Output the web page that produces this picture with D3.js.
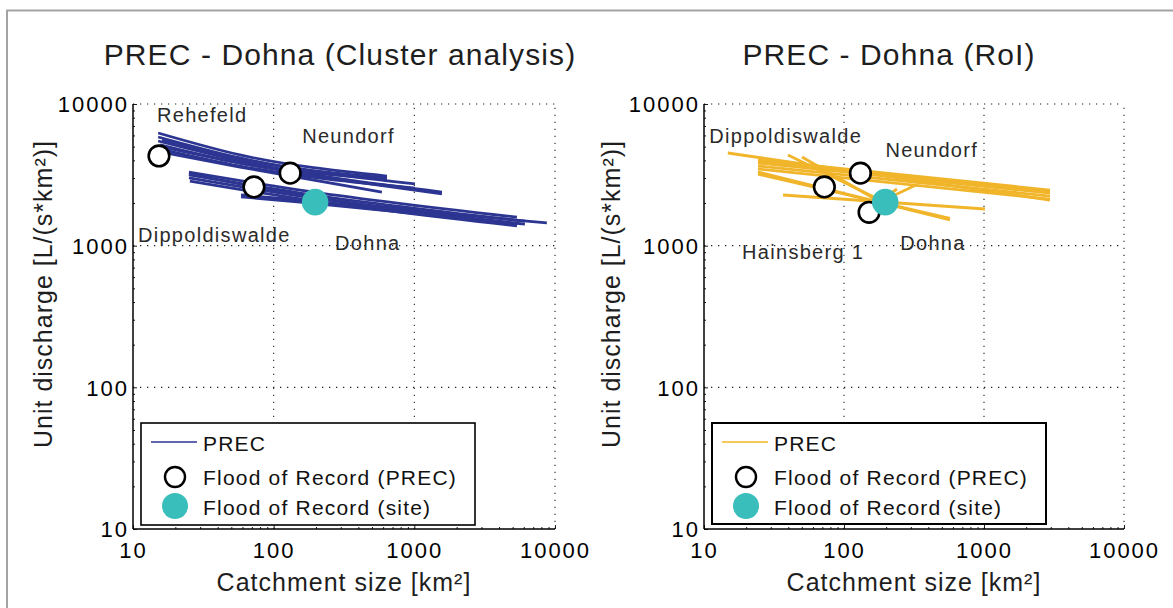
<!DOCTYPE html>
<html>
<head>
<meta charset="utf-8">
<script src="https://cdn.jsdelivr.net/npm/d3@7"></script>
<style>
  body { margin: 0; background: #fff; }
  svg { display: block; font-family: "Liberation Sans", Arial, Helvetica, sans-serif; }
</style>
</head>
<body>
<svg id="chart" width="1173" height="608"></svg>
<script>
// ---- data -------------------------------------------------------------
const axisTicks = [10, 100, 1000, 10000];
const axisTickLabels = ["10", "100", "1000", "10000"];

// PREC curves, each a list of [catchment area km², unit discharge L/(s*km²)]
const clusterLines = [
  [[15.1, 6240], [57.6, 4370], [639, 3100]],
  [[15.1, 5850], [57.6, 4160], [1010, 2730]],
  [[15.1, 5480], [57.6, 3960], [1571, 2390]],
  [[15.6, 5140], [57.6, 3830], [639, 2960]],
  [[15.6, 4810], [57.6, 3650], [1010, 2550]],
  [[15.6, 4590], [57.6, 3590], [588, 2390]],
  [[16.1, 5570], [57.6, 4090], [639, 3006]],
  [[15.1, 5050], [57.6, 3830], [1571, 2320]],
  [[25.0, 3310], [154, 2470], [5360, 1590]],
  [[25.0, 3160], [154, 2350], [6110, 1490]],
  [[25.0, 3010], [154, 2240], [8750, 1450]],
  [[25.4, 2860], [154, 2140], [5360, 1380]],
  [[25.0, 3210], [154, 2280], [6110, 1420]],
  [[58.6, 2280], [154, 2100], [5360, 1400]],
  [[58.6, 2210], [154, 2030], [4060, 1470]]
];
const roiLines = [
  [[14.8, 4510], [2960, 2100]],
  [[24.3, 4025], [2960, 2470]],
  [[24.3, 3900], [2960, 2400]],
  [[24.3, 3830], [2960, 2350]],
  [[24.3, 3650], [2960, 2240]],
  [[24.3, 3480], [2960, 2130]],
  [[24.3, 3313], [571, 1519]],
  [[24.3, 3200], [571, 1560]],
  [[36.7, 2279], [1016, 1815]],
  [[39.8, 4365], [181, 2101]],
  [[50.1, 4227], [181, 2034]],
  [[181, 2034], [338, 2725]],
  [[181, 2067], [239, 2512]]
];

// Floods of record at the PREC stations
const clusterStations = ["Rehefeld", "Dippoldiswalde", "Neundorf"];
const clusterArea = [15.3, 72.4, 131];
const clusterPeak = [4300, 2600, 3250];
const roiStations = ["Dippoldiswalde", "Neundorf", "Hainsberg 1"];
const roiArea = [72.4, 131, 151];
const roiPeak = [2600, 3250, 1720];

// Flood of record at the site itself
const siteName = "Dohna";
const siteArea = 197;
const sitePeak = 2030;

const titles = ["PREC - Dohna (Cluster analysis)", "PREC - Dohna (RoI)"];
const legendLabels = ["PREC", "Flood of Record (PREC)", "Flood of Record (site)"];
const xLabel = "Catchment size [km\u00B2]";
const yLabel = "Unit discharge [L/(s*km\u00B2)]";

// ---- styling ------------------------------------------------------------
const BLUE = "#2c3591";
const GOLD = "#f0b52a";
const TEAL = "#39bebb";

// Pixel offsets of the station names from their markers
const labelOffsets = {
  cluster: { "Rehefeld": [-2, -34], "Dippoldiswalde": [-116, 55], "Neundorf": [12, -30], "Dohna": [20, 48] },
  roi: { "Dippoldiswalde": [-115, -44], "Neundorf": [25, -16], "Hainsberg 1": [-127, 47], "Dohna": [15, 48] }
};

const panels = [
  { key: "cluster", title: titles[0], titleX: 340, x0: 133, x1: 555, lines: clusterLines, color: BLUE,
    names: clusterStations, area: clusterArea, peak: clusterPeak,
    legend: { x: 141, y: 423, w: 334, h: 102, sw: 1.6 }, yLabelX: 52 },
  { key: "roi", title: titles[1], titleX: 889, x0: 704, x1: 1124, lines: roiLines, color: GOLD,
    names: roiStations, area: roiArea, peak: roiPeak,
    legend: { x: 712, y: 423, w: 334, h: 101, sw: 2 }, yLabelX: 620 }
];

const Y_TOP = 104, Y_BOT = 529;

const svg = d3.select("#chart");
svg.append("rect").attr("width", 1173).attr("height", 608).attr("fill", "#fff");

// outer frame (top and left edges visible)
svg.append("path")
  .attr("d", "M7,608 V10.5 H1173")
  .attr("fill", "none").attr("stroke", "#a3a3a3").attr("stroke-width", 2);

panels.forEach(p => {
  const g = svg.append("g");
  const x = d3.scaleLog().domain([10, 10000]).range([p.x0, p.x1]);
  const y = d3.scaleLog().domain([10, 10000]).range([Y_BOT, Y_TOP]);

  // dotted grid at the decades (the 10000 lines close the box)
  const grid = g.append("g").attr("stroke", "#222").attr("stroke-width", 1.1)
    .attr("stroke-dasharray", "1.3 5.7");
  axisTicks.slice(1).forEach(t => {
    grid.append("line").attr("x1", x(t)).attr("x2", x(t)).attr("y1", Y_BOT).attr("y2", Y_TOP);
    grid.append("line").attr("x1", p.x0).attr("x2", p.x1).attr("y1", y(t)).attr("y2", y(t));
  });

  // axes with inward ticks
  const minor = [];
  [10, 100, 1000].forEach(d => { for (let k = 2; k <= 9; k++) minor.push(k * d); });

  const xAxis = d3.axisBottom(x).tickValues(minor).tickSize(-2).tickFormat("");
  const xMaj = d3.axisBottom(x).tickValues(axisTicks).tickSize(-4).tickFormat((d, i) => axisTickLabels[i]).tickPadding(0);
  const yAxis = d3.axisLeft(y).tickValues(minor).tickSize(-2).tickFormat("");
  const yMaj = d3.axisLeft(y).tickValues(axisTicks).tickSize(-4).tickFormat((d, i) => axisTickLabels[i]).tickPadding(0);

  const gx = g.append("g").attr("transform", `translate(0,${Y_BOT})`);
  gx.call(xAxis);
  gx.append("g").call(xMaj);
  const gy = g.append("g").attr("transform", `translate(${p.x0},0)`);
  gy.call(yAxis);
  gy.append("g").call(yMaj);

  [gx, gy].forEach(a => {
    a.selectAll(".domain").attr("stroke", "#000").attr("stroke-width", 1);
    a.selectAll(".tick line").attr("stroke", "#000").attr("stroke-width", 0.9);
  });
  gx.selectAll(".domain").attr("d", `M${p.x0},0H${p.x1}`);
  gy.selectAll(".domain").attr("d", `M0,${Y_BOT}V${Y_TOP}`);

  gx.selectAll(".tick text")
    .attr("y", 29).attr("dy", null)
    .attr("font-size", 22).attr("letter-spacing", "2px").attr("fill", "#000")
    .attr("font-family", "Liberation Sans, Arial, sans-serif");
  gy.selectAll(".tick text")
    .attr("x", -4).attr("dy", "0.36em")
    .attr("font-size", 22).attr("letter-spacing", "2px").attr("fill", "#000")
    .attr("font-family", "Liberation Sans, Arial, sans-serif");

  // PREC curves
  const path = d3.line().x(d => x(d[0])).y(d => y(d[1])).curve(d3.curveMonotoneX);
  g.append("g").selectAll("path").data(p.lines).join("path")
    .attr("d", path)
    .attr("fill", "none").attr("stroke", p.color).attr("stroke-width", 2.8);

  // station floods of record
  const st = p.names.map((n, i) => ({ name: n, area: p.area[i], peak: p.peak[i] }));
  g.append("g").selectAll("circle").data(st).join("circle")
    .attr("cx", d => x(d.area)).attr("cy", d => y(d.peak)).attr("r", 10.3)
    .attr("fill", "#fff").attr("stroke", "#000").attr("stroke-width", 2.6);

  // site flood of record
  g.append("circle").attr("cx", x(siteArea)).attr("cy", y(sitePeak)).attr("r", 13.3).attr("fill", TEAL);

  // station names
  const named = st.concat([{ name: siteName, area: siteArea, peak: sitePeak }]);
  g.append("g").selectAll("text").data(named).join("text")
    .attr("x", d => x(d.area) + labelOffsets[p.key][d.name][0])
    .attr("y", d => y(d.peak) + labelOffsets[p.key][d.name][1])
    .attr("font-size", 20).attr("letter-spacing", "1.3px").attr("fill", "#2a2a2a")
    .text(d => d.name);

  // title and axis labels
  g.append("text").attr("x", p.titleX).attr("y", 65).attr("text-anchor", "middle")
    .attr("font-size", 30).attr("letter-spacing", "1.1px").attr("fill", "#1e1e1e").text(p.title);
  g.append("text").attr("x", (p.x0 + p.x1) / 2).attr("y", 591).attr("text-anchor", "middle")
    .attr("font-size", 25).attr("letter-spacing", "1px").attr("fill", "#1e1e1e").text(xLabel);
  g.append("text").attr("transform", `translate(${p.yLabelX},294) rotate(-90)`).attr("text-anchor", "middle")
    .attr("font-size", 25).attr("letter-spacing", "1px").attr("fill", "#1e1e1e").text(yLabel);

  // legend
  const L = p.legend;
  const lg = g.append("g").attr("transform", `translate(${L.x},${L.y})`);
  lg.append("rect").attr("width", L.w).attr("height", L.h)
    .attr("fill", "#fff").attr("stroke", "#000").attr("stroke-width", L.sw);
  lg.append("line").attr("x1", 10).attr("x2", 56).attr("y1", 19).attr("y2", 19)
    .attr("stroke", p.color).attr("stroke-width", 1.6);
  lg.append("circle").attr("cx", 34).attr("cy", 54).attr("r", 10)
    .attr("fill", "#fff").attr("stroke", "#000").attr("stroke-width", 2.4);
  lg.append("circle").attr("cx", 34).attr("cy", 83).attr("r", 13).attr("fill", TEAL);
  lg.selectAll("text.entry").data(legendLabels).join("text")
    .attr("class", "entry")
    .attr("x", 62).attr("y", (d, i) => [28, 62, 92][i])
    .attr("font-size", 21).attr("letter-spacing", "1.2px").attr("fill", "#111")
    .text(d => d);
});
</script>
</body>
</html>
